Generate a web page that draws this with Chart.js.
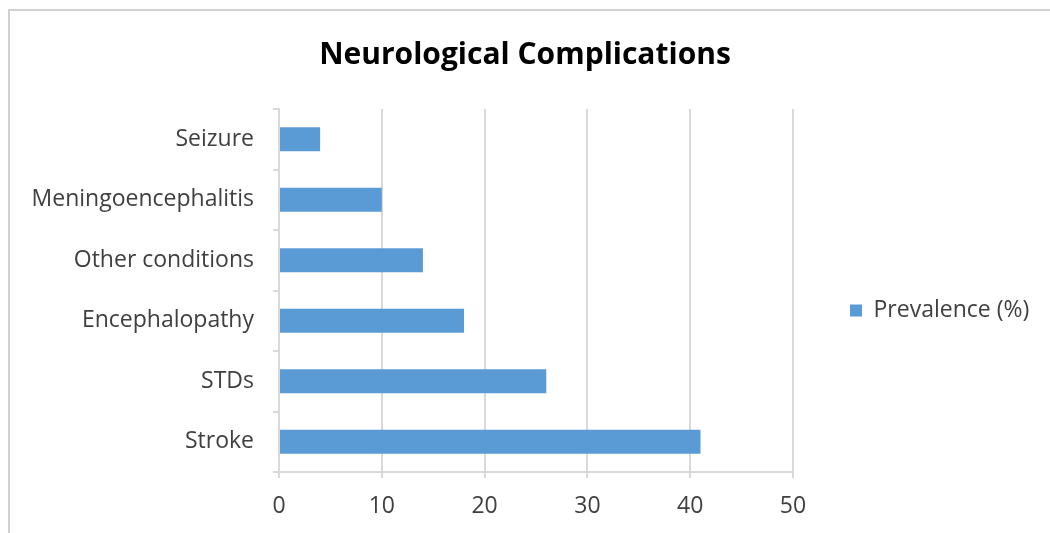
<!DOCTYPE html>
<html>
<head>
<meta charset="utf-8">
<script src="https://cdn.jsdelivr.net/npm/chart.js@4/dist/chart.umd.min.js"></script>
<style>
  html, body { margin: 0; padding: 0; background: #ffffff; overflow: hidden; }
  #wrap { position: relative; width: 1050px; height: 533px; }
  #frame {
    position: absolute; left: 8px; top: 9px; width: 1100px; height: 600px;
    border: 2px solid #d0d0d0; box-sizing: border-box;
  }
  #chart { position: absolute; left: 0; top: 0; }
</style>
</head>
<body>
<div id="wrap">
  <div id="frame"></div>
  <canvas id="chart" width="1050" height="533"></canvas>
</div>
<script>
// Neurological complications, prevalence in percent
const categories = ['Seizure', 'Meningoencephalitis', 'Other conditions', 'Encephalopathy', 'STDs', 'Stroke'];
const prevalence = [4, 10, 14, 18, 26, 41];
const seriesLabel = 'Prevalence (%)';
const xTicks = [0, 10, 20, 30, 40, 50];

const FONT = '"Open Sans", "DejaVu Sans", sans-serif';
const GRID = '#d9d9d9';
const TEXT = '#404040';

// Fixed plot area: y axis width, x axis height, legend width
const PLOT_LEFT = 279, PLOT_RIGHT = 793, PLOT_BOTTOM = 472;
const LEGEND_SHIFT = 44;

const legendPlacement = {
  id: 'legendPlacement',
  beforeLayout(chart) {
    const lg = chart.legend;
    if (lg && !lg._fixedFit) {
      const orig = lg.fit;
      lg.fit = function () {
        orig.call(this);
        this.width = chart.width - PLOT_RIGHT;
      };
      lg._fixedFit = true;
    }
  },
  afterLayout(chart) {
    const lg = chart.legend;
    if (lg) {
      lg.top += LEGEND_SHIFT;
      lg.bottom += LEGEND_SHIFT;
    }
  }
};

new Chart(document.getElementById('chart'), {
  type: 'bar',
  data: {
    labels: categories,
    datasets: [{
      label: seriesLabel,
      data: prevalence,
      backgroundColor: '#5b9bd5',
      borderWidth: 0,
      categoryPercentage: 0.4,
      barPercentage: 1.0
    }]
  },
  options: {
    indexAxis: 'y',
    responsive: false,
    animation: false,
    layout: { padding: 0 },
    plugins: {
      title: {
        display: true,
        text: 'Neurological Complications',
        color: '#000000',
        font: { family: FONT, size: 30, weight: 'bold' },
        padding: { top: 37, bottom: 36 }
      },
      legend: {
        display: true,
        position: 'right',
        align: 'center',
        labels: {
          boxWidth: 12,
          boxHeight: 12,
          padding: 57,
          color: TEXT,
          font: { family: FONT, size: 23 }
        }
      },
      tooltip: { enabled: false }
    },
    scales: {
      x: {
        min: 0,
        max: 50,
        afterBuildTicks(scale) { scale.ticks = xTicks.map(v => ({ value: v })); },
        afterFit(scale) { scale.height = 533 - PLOT_BOTTOM; },
        grid: { color: GRID, lineWidth: 2, tickLength: 6, drawTicks: true },
        border: { color: GRID, width: 2 },
        ticks: { color: TEXT, padding: 15, font: { family: FONT, size: 23 } }
      },
      y: {
        afterFit(scale) { scale.width = PLOT_LEFT; },
        grid: { display: true, drawOnChartArea: false, drawTicks: true, tickLength: 6, color: GRID, lineWidth: 2, offset: true },
        border: { color: GRID, width: 2 },
        ticks: { color: TEXT, padding: 19, font: { family: FONT, size: 23 } }
      }
    }
  },
  plugins: [legendPlacement]
});
</script>
</body>
</html>
